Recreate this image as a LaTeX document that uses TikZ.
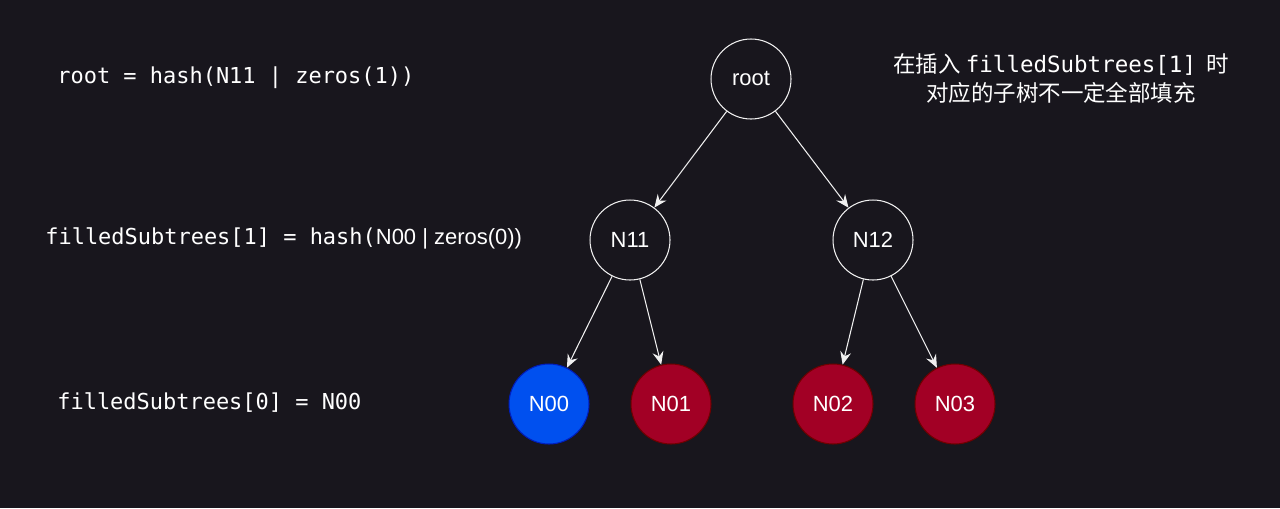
\documentclass[tikz,border=0pt]{standalone}
\usepackage{fontspec}
\setsansfont{Liberation Sans}
\setmonofont{DejaVu Sans Mono}
\newfontfamily\cjk{Noto Sans CJK SC}
\usepackage{xcolor}
\usepackage{tikz}
\usetikzlibrary{arrows.meta, positioning}
\definecolor{fondo}{HTML}{18161D}
\definecolor{blanco}{HTML}{F0F0F0}
\definecolor{azul}{HTML}{0050EF}
\definecolor{azulborde}{HTML}{001DBC}
\definecolor{rojo}{HTML}{A20025}
\definecolor{rojoborde}{HTML}{6F0000}
\tikzset{
  circ/.style={circle, draw=blanco, line width=0.6pt, minimum size=1.6cm,
    inner sep=0pt, text=white, font=\sffamily\fontsize{12.5}{14}\selectfont},
  hojaazul/.style={circ, fill=azul, draw=azulborde},
  hojaroja/.style={circ, fill=rojo, draw=rojoborde},
  codigo/.style={anchor=west, inner sep=0pt, text=white,
    font=\ttfamily\fontsize{12.5}{15}\selectfont},
  flecha/.style={-{Stealth[length=2.6mm, width=2.2mm, inset=0.9mm]},
    line width=0.6pt, blanco}
}

\begin{document}
\begin{tikzpicture}[x=0.02cm, y=-0.02cm]

  % --- Fondo ---
  \fill[fondo] (0,0) rectangle (1280,508);
  \useasboundingbox (0,0) rectangle (1280,508);

  % --- Arbol ---
  \node[circ] (root) at (751,79) {root};
  \node[circ] (n11) at (630,240) {N11};
  \node[circ] (n12) at (873,240) {N12};
  \node[hojaazul] (n00) at (549,404) {N00};
  \foreach \x/\nombre in {671/N01, 833/N02, 955/N03}
    \node[hojaroja] (\nombre) at (\x,404) {\nombre};

  \draw[flecha] (root) -- (n11);
  \draw[flecha] (root) -- (n12);
  \draw[flecha] (n11) -- (n00);
  \draw[flecha] (n11) -- (N01);
  \draw[flecha] (n12) -- (N02);
  \draw[flecha] (n12) -- (N03);

  % --- Textos ---
  \node[codigo] (t1) at (57,78) {root = hash(N11 | zeros(1))};
  \node[codigo] (t2) at (45,238)
    {filledSubtrees[1] = hash({\sffamily N00 | zeros(0))}};
  \node[codigo] (t3) at (57,403) {filledSubtrees[0] = N00};

  \node[align=center, text=white, inner sep=0pt,
    font=\cjk\fontsize{12.8}{16.5}\selectfont] (nota) at (1061,79)
    {在插入\ \texttt{filledSubtrees[1]}\ \ 时\\对应的子树不一定全部填充};

\end{tikzpicture}
\end{document}
